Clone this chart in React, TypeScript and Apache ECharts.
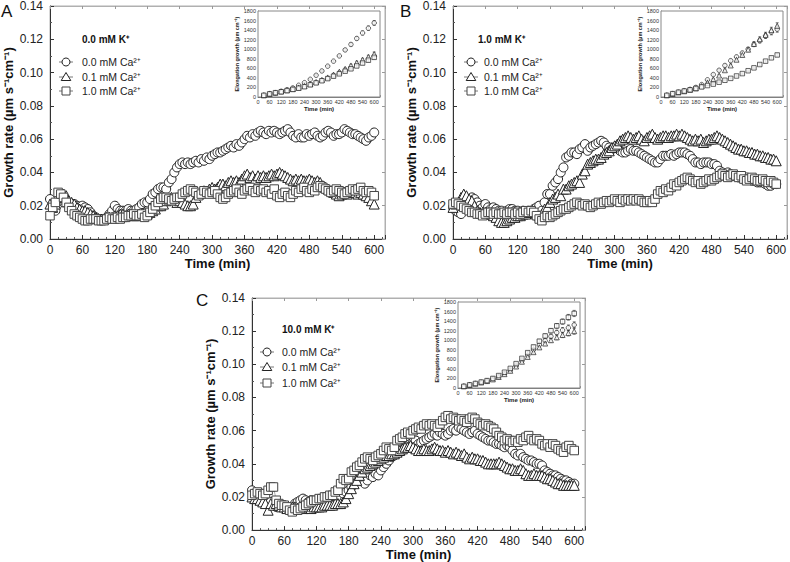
import React, { useEffect, useRef } from "react";
import * as echarts from "echarts";

// ---------- DATA ----------
const TIME = [
  0,5,10,15,20,25,30,35,40,45,50,55,60,65,70,75,80,85,90,95,
  100,105,110,115,120,125,130,135,140,145,150,155,160,165,170,175,180,185,190,195,
  200,205,210,215,220,225,230,235,240,245,250,255,260,265,270,275,280,285,290,295,
  300,305,310,315,320,325,330,335,340,345,350,355,360,365,370,375,380,385,390,395,
  400,405,410,415,420,425,430,435,440,445,450,455,460,465,470,475,480,485,490,495,
  500,505,510,515,520,525,530,535,540,545,550,555,560,565,570,575,580,585,590,595,
  600,
];

// Panel A: 0.0 mM K+
const A_CA00 = [
  0.024,0.020,0.017,0.021,0.023,0.022,0.022,0.021,0.021,0.021,
  0.020,0.019,0.020,0.019,0.018,0.016,0.014,0.013,0.012,0.012,
  0.012,0.013,0.015,0.017,0.020,0.018,0.017,0.017,0.017,0.018,
  0.017,0.017,0.018,0.019,0.021,0.022,0.022,0.024,0.027,0.028,
  0.030,0.031,0.031,0.030,0.034,0.036,0.040,0.043,0.045,0.046,
  0.045,0.046,0.045,0.046,0.047,0.046,0.048,0.047,0.049,0.048,
  0.050,0.051,0.052,0.052,0.053,0.054,0.055,0.056,0.055,0.057,
  0.056,0.058,0.060,0.062,0.061,0.063,0.062,0.064,0.065,0.064,
  0.063,0.065,0.064,0.065,0.064,0.063,0.064,0.065,0.066,0.064,
  0.062,0.061,0.063,0.061,0.061,0.063,0.062,0.063,0.064,0.062,
  0.061,0.062,0.064,0.065,0.064,0.062,0.063,0.063,0.064,0.066,
  0.065,0.064,0.063,0.063,0.062,0.061,0.060,0.059,0.061,0.062,
  0.064,
];
const A_CA01 = [
  0.021,0.019,0.021,0.024,0.025,0.027,0.026,0.023,0.022,0.021,
  0.019,0.018,0.017,0.017,0.016,0.015,0.014,0.013,0.012,0.012,
  0.012,0.013,0.013,0.013,0.014,0.014,0.015,0.015,0.014,0.015,
  0.015,0.014,0.014,0.015,0.015,0.016,0.015,0.016,0.017,0.018,
  0.020,0.020,0.021,0.023,0.024,0.025,0.024,0.022,0.023,0.022,
  0.021,0.020,0.020,0.021,0.025,0.027,0.028,0.029,0.028,0.030,
  0.031,0.030,0.031,0.033,0.033,0.032,0.034,0.035,0.034,0.035,
  0.034,0.036,0.038,0.039,0.037,0.038,0.036,0.038,0.037,0.038,
  0.037,0.038,0.039,0.038,0.039,0.040,0.039,0.038,0.037,0.036,
  0.035,0.036,0.035,0.036,0.035,0.035,0.036,0.035,0.034,0.035,
  0.034,0.032,0.031,0.030,0.029,0.028,0.027,0.026,0.027,0.028,
  0.027,0.028,0.029,0.028,0.027,0.028,0.027,0.026,0.025,0.023,
  0.021,
];
const A_CA10 = [
  0.014,0.019,0.022,0.028,0.027,0.025,0.022,0.019,0.017,0.015,
  0.014,0.013,0.012,0.011,0.011,0.012,0.012,0.012,0.011,0.011,
  0.011,0.012,0.013,0.012,0.012,0.013,0.012,0.013,0.013,0.014,
  0.014,0.015,0.014,0.014,0.015,0.013,0.014,0.016,0.018,0.020,
  0.022,0.024,0.025,0.025,0.024,0.023,0.024,0.025,0.025,0.027,
  0.028,0.029,0.030,0.029,0.028,0.026,0.027,0.029,0.028,0.027,
  0.028,0.029,0.027,0.025,0.024,0.025,0.027,0.028,0.029,0.030,
  0.028,0.027,0.029,0.030,0.031,0.029,0.028,0.030,0.029,0.030,
  0.028,0.029,0.027,0.030,0.026,0.025,0.027,0.028,0.026,0.025,
  0.027,0.029,0.028,0.030,0.031,0.029,0.028,0.030,0.029,0.031,
  0.032,0.031,0.030,0.029,0.028,0.029,0.030,0.029,0.028,0.027,
  0.028,0.029,0.030,0.029,0.030,0.031,0.029,0.028,0.029,0.028,
  0.026,
];

// Panel B: 1.0 mM K+
const B_CA00 = [
  0.019,0.017,0.016,0.015,0.020,0.022,0.024,0.025,0.024,0.022,
  0.020,0.019,0.021,0.019,0.018,0.019,0.018,0.017,0.017,0.016,
  0.017,0.018,0.018,0.017,0.017,0.016,0.017,0.016,0.017,0.016,
  0.018,0.019,0.020,0.017,0.022,0.027,0.027,0.032,0.034,0.036,
  0.040,0.043,0.049,0.050,0.052,0.052,0.051,0.054,0.055,0.057,
  0.053,0.055,0.056,0.057,0.058,0.059,0.058,0.056,0.055,0.054,
  0.055,0.056,0.053,0.052,0.052,0.053,0.054,0.053,0.053,0.052,
  0.051,0.050,0.049,0.048,0.047,0.046,0.046,0.048,0.050,0.050,
  0.050,0.051,0.050,0.051,0.052,0.052,0.052,0.051,0.050,0.048,
  0.046,0.046,0.045,0.046,0.046,0.046,0.045,0.045,0.044,0.041,
  0.040,0.039,0.040,0.039,0.038,0.038,0.037,0.037,0.036,0.037,
  0.036,0.035,0.035,0.034,0.034,0.034,0.033,0.032,0.032,0.033,
  0.033,
];
const B_CA01 = [
  0.019,0.021,0.022,0.025,0.027,0.026,0.024,0.023,0.020,0.017,
  0.016,0.016,0.016,0.015,0.015,0.014,0.013,0.011,0.010,0.010,
  0.011,0.012,0.013,0.013,0.014,0.014,0.015,0.015,0.016,0.016,
  0.016,0.015,0.014,0.015,0.018,0.019,0.022,0.024,0.025,0.027,
  0.026,0.030,0.030,0.032,0.033,0.034,0.035,0.034,0.039,0.041,
  0.045,0.046,0.047,0.048,0.048,0.049,0.051,0.052,0.053,0.055,
  0.056,0.057,0.059,0.060,0.061,0.062,0.061,0.060,0.061,0.062,
  0.060,0.059,0.061,0.062,0.063,0.061,0.060,0.061,0.062,0.062,
  0.061,0.062,0.062,0.063,0.062,0.063,0.062,0.061,0.060,0.059,
  0.060,0.059,0.060,0.058,0.059,0.060,0.060,0.061,0.062,0.061,
  0.060,0.059,0.058,0.057,0.056,0.055,0.054,0.054,0.053,0.053,
  0.052,0.052,0.051,0.051,0.050,0.050,0.049,0.049,0.048,0.048,
  0.047,
];
const B_CA10 = [
  0.021,0.022,0.021,0.020,0.019,0.018,0.017,0.016,0.016,0.015,
  0.015,0.014,0.015,0.016,0.016,0.015,0.016,0.015,0.015,0.016,
  0.015,0.016,0.016,0.015,0.016,0.015,0.016,0.017,0.016,0.017,
  0.016,0.014,0.012,0.011,0.013,0.014,0.013,0.014,0.015,0.016,
  0.017,0.018,0.018,0.019,0.020,0.021,0.022,0.021,0.020,0.021,
  0.020,0.019,0.020,0.021,0.022,0.021,0.022,0.023,0.022,0.023,
  0.024,0.023,0.022,0.024,0.023,0.024,0.023,0.024,0.023,0.024,
  0.023,0.022,0.022,0.023,0.022,0.024,0.027,0.029,0.028,0.030,
  0.029,0.031,0.033,0.032,0.034,0.035,0.036,0.037,0.036,0.035,
  0.034,0.035,0.033,0.034,0.035,0.036,0.035,0.036,0.037,0.038,
  0.039,0.038,0.037,0.038,0.039,0.038,0.037,0.038,0.036,0.035,
  0.036,0.037,0.036,0.035,0.035,0.036,0.035,0.034,0.035,0.034,
  0.033,
];

// Panel C: 10.0 mM K+
const C_CA00 = [
  0.024,0.022,0.020,0.019,0.018,0.017,0.016,0.017,0.015,0.014,
  0.014,0.014,0.015,0.014,0.013,0.014,0.016,0.017,0.018,0.019,
  0.018,0.017,0.018,0.017,0.016,0.017,0.018,0.017,0.018,0.019,
  0.018,0.019,0.018,0.020,0.022,0.023,0.024,0.026,0.029,0.031,
  0.032,0.031,0.028,0.030,0.033,0.032,0.034,0.033,0.036,0.038,
  0.040,0.042,0.044,0.045,0.046,0.047,0.048,0.050,0.051,0.052,
  0.053,0.054,0.052,0.053,0.054,0.055,0.056,0.057,0.058,0.057,
  0.059,0.058,0.057,0.058,0.060,0.061,0.060,0.062,0.061,0.060,
  0.059,0.058,0.059,0.060,0.058,0.057,0.056,0.055,0.054,0.054,
  0.053,0.052,0.052,0.051,0.050,0.051,0.050,0.048,0.046,0.045,
  0.046,0.044,0.043,0.042,0.042,0.041,0.040,0.040,0.039,0.036,
  0.035,0.034,0.033,0.033,0.032,0.031,0.030,0.030,0.029,0.028,
  0.028,
];
const C_CA01 = [
  0.020,0.019,0.019,0.018,0.017,0.016,0.012,0.016,0.015,0.016,
  0.015,0.014,0.014,0.013,0.013,0.014,0.014,0.013,0.014,0.013,
  0.014,0.014,0.013,0.014,0.014,0.014,0.014,0.015,0.015,0.015,
  0.015,0.016,0.016,0.016,0.017,0.019,0.022,0.025,0.028,0.030,
  0.033,0.035,0.037,0.038,0.039,0.040,0.041,0.042,0.043,0.044,
  0.045,0.045,0.046,0.046,0.047,0.048,0.049,0.050,0.050,0.051,
  0.050,0.049,0.048,0.048,0.049,0.048,0.048,0.049,0.050,0.049,
  0.048,0.048,0.047,0.048,0.047,0.046,0.047,0.046,0.045,0.046,
  0.044,0.043,0.044,0.043,0.043,0.042,0.042,0.041,0.040,0.040,
  0.040,0.040,0.041,0.040,0.039,0.038,0.037,0.037,0.036,0.036,
  0.037,0.036,0.034,0.033,0.033,0.034,0.033,0.033,0.033,0.032,
  0.031,0.031,0.030,0.029,0.028,0.028,0.027,0.027,0.027,0.027,
  0.027,
];
const C_CA10 = [
  0.021,0.022,0.023,0.022,0.021,0.022,0.024,0.026,0.026,0.018,
  0.016,0.015,0.015,0.014,0.012,0.011,0.013,0.012,0.013,0.014,
  0.015,0.016,0.017,0.018,0.018,0.019,0.019,0.020,0.020,0.021,
  0.021,0.023,0.024,0.028,0.031,0.030,0.031,0.035,0.036,0.038,
  0.039,0.041,0.043,0.044,0.043,0.042,0.044,0.045,0.046,0.048,
  0.050,0.049,0.048,0.050,0.054,0.055,0.056,0.058,0.059,0.058,
  0.060,0.061,0.062,0.061,0.063,0.064,0.063,0.064,0.063,0.062,
  0.064,0.066,0.068,0.069,0.067,0.068,0.067,0.066,0.067,0.066,
  0.065,0.067,0.068,0.067,0.065,0.064,0.063,0.064,0.063,0.062,
  0.061,0.059,0.057,0.056,0.054,0.055,0.054,0.053,0.054,0.053,
  0.055,0.054,0.056,0.057,0.055,0.054,0.055,0.054,0.052,0.051,
  0.052,0.050,0.052,0.051,0.049,0.048,0.047,0.050,0.051,0.049,
  0.048,
];

// Insets: cumulative elongation growth (µm cm-1)
const INSET_TIME = [30,60,90,120,150,180,210,240,270,300,330,360,390,420,450,480,510,540,570,600];
const IA_CA00 = [35,70,90,120,150,190,245,300,370,455,545,645,750,860,985,1100,1225,1340,1440,1550];
const IA_CA01 = [35,65,90,115,140,165,195,230,270,315,360,410,470,530,590,660,720,780,840,900];
const IA_CA10 = [35,65,90,110,135,160,185,215,255,295,340,385,435,485,540,590,650,710,770,830];
const IB_CA00 = [35,70,100,130,160,200,260,360,470,560,660,760,840,920,1000,1100,1180,1280,1360,1420];
const IB_CA01 = [35,65,95,120,150,180,230,300,370,450,560,660,780,880,990,1110,1210,1300,1400,1490];
const IB_CA10 = [35,70,100,125,150,180,210,240,270,310,350,390,440,490,550,610,680,750,820,880];
const IC_CA00 = [35,65,95,120,150,190,240,300,370,460,570,680,800,900,990,1080,1160,1210,1260,1320];
const IC_CA01 = [35,65,90,115,145,180,230,290,360,450,550,650,750,850,930,1000,1060,1110,1150,1190];
const IC_CA10 = [35,65,95,125,155,200,260,330,410,510,620,740,860,980,1090,1200,1300,1390,1480,1560];

// Inset error (±)
const EA_CA00 = [5,5,5,6,6,8,10,10,12,14,15,18,20,22,25,30,35,40,45,50];
const EA_CA01 = [4,4,5,5,6,6,8,8,10,10,12,14,16,18,20,24,28,30,34,40];
const EA_CA10 = [4,4,5,5,6,6,8,8,10,10,12,14,16,18,20,22,25,28,30,35];
const EB_CA00 = [5,5,6,6,8,10,12,15,18,20,25,28,30,35,40,45,50,55,60,65];
const EB_CA01 = [5,5,6,6,8,10,12,15,18,20,25,28,30,35,40,45,50,55,60,65];
const EB_CA10 = [4,4,5,5,6,6,8,8,10,10,12,12,14,15,16,18,20,22,25,28];
const EC_CA00 = [4,4,5,5,6,8,10,12,15,18,20,25,30,35,40,45,50,55,60,65];
const EC_CA01 = [4,4,5,5,6,8,10,12,15,18,20,25,30,35,40,45,50,55,60,65];
const EC_CA10 = [4,4,5,5,6,8,10,12,15,18,20,25,30,35,40,45,50,55,60,65];

const X_TICKS = [0, 60, 120, 180, 240, 300, 360, 420, 480, 540, 600];
const K_LABELS = ["0.0 mM K⁺", "1.0 mM K⁺", "10.0 mM K⁺"];
const CA_LABELS = ["0.0 mM Ca²⁺", "0.1 mM Ca²⁺", "1.0 mM Ca²⁺"];
const PANEL_LETTERS = ["A", "B", "C"];

const MAIN = [
  [A_CA00, A_CA01, A_CA10],
  [B_CA00, B_CA01, B_CA10],
  [C_CA00, C_CA01, C_CA10],
];
const INSET = [
  [IA_CA00, IA_CA01, IA_CA10],
  [IB_CA00, IB_CA01, IB_CA10],
  [IC_CA00, IC_CA01, IC_CA10],
];
const ERR = [
  [EA_CA00, EA_CA01, EA_CA10],
  [EB_CA00, EB_CA01, EB_CA10],
  [EC_CA00, EC_CA01, EC_CA10],
];

// ---------- LAYOUT ----------
const LAYOUT = [
  {
    grid: { left: 50, top: 6, width: 335, height: 233 },
    inset: { left: 258, top: 11, width: 122, height: 86 },
    letter: { x: 1, y: 3 },
    legend: { titleX: 82, titleY: 39, markX: 66, textX: 82, rows: [62, 77, 91] },
  },
  {
    grid: { left: 453, top: 6, width: 336, height: 233 },
    inset: { left: 661, top: 11, width: 122, height: 86 },
    letter: { x: 400, y: 3 },
    legend: { titleX: 478, titleY: 39, markX: 471, textX: 484, rows: [62, 77, 91] },
  },
  {
    grid: { left: 252, top: 298, width: 333, height: 234 },
    inset: { left: 458, top: 302, width: 122, height: 86 },
    letter: { x: 196, y: 292 },
    legend: { titleX: 282, titleY: 329, markX: 267, textX: 282, rows: [352, 367, 383] },
  },
];

const SYMBOLS = ["circle", "triangle", "rect"];
const SYMBOL_SIZES = [9, 10, 8.5];
const BORDER = ["#222", "#222", "#444"];
const FONT = "Liberation Sans, Arial, Helvetica, sans-serif";

function buildOption() {
  const grids: any[] = [];
  const xAxes: any[] = [];
  const yAxes: any[] = [];
  const series: any[] = [];
  const graphics: any[] = [];

  LAYOUT.forEach((L, p) => {
    const gMain = grids.length;
    grids.push({ ...L.grid, show: true, borderColor: "#b0b0b0", borderWidth: 1, backgroundColor: "#fff", containLabel: false });
    const gIn = grids.length;
    grids.push({ ...L.inset, show: true, borderColor: "#888", borderWidth: 1, backgroundColor: "#fff", containLabel: false, z: 5 });

    const xMain = xAxes.length;
    xAxes.push({
      type: "value", gridIndex: gMain, min: 0, max: 620, interval: 60, position: "bottom",
      name: "Time (min)", nameLocation: "middle", nameGap: 16,
      nameTextStyle: { fontFamily: FONT, fontWeight: "bold", fontSize: 13, color: "#111" },
      axisLine: { show: true, onZero: false, lineStyle: { color: "#333", width: 1 } },
      axisTick: { show: true, inside: true, length: 4, lineStyle: { color: "#333" } },
      minorTick: { show: true, splitNumber: 4, length: 2, lineStyle: { color: "#555" } },
      splitLine: { show: false },
      axisLabel: { fontFamily: FONT, fontSize: 12, color: "#222", margin: 5, formatter: (v: number) => (X_TICKS.includes(v) ? String(v) : "") },
    });
    xAxes.push({
      type: "value", gridIndex: gMain, min: 0, max: 620, interval: 60, position: "top",
      axisLine: { show: true, onZero: false, lineStyle: { color: "#b0b0b0" } },
      axisTick: { show: true, inside: true, length: 3, lineStyle: { color: "#999" } },
      axisLabel: { show: false }, splitLine: { show: false },
    });
    const xIn = xAxes.length;
    xAxes.push({
      type: "value", gridIndex: gIn, min: 0, max: 630, interval: 60, position: "bottom",
      name: "Time (min)", nameLocation: "middle", nameGap: 8,
      nameTextStyle: { fontFamily: FONT, fontWeight: "bold", fontSize: 6, color: "#222" },
      axisLine: { show: true, onZero: false, lineStyle: { color: "#555", width: 0.8 } },
      axisTick: { show: true, inside: true, length: 2, lineStyle: { color: "#555", width: 0.6 } },
      splitLine: { show: false },
      axisLabel: { fontFamily: FONT, fontSize: 5.5, color: "#333", margin: 2, formatter: (v: number) => (X_TICKS.includes(v) ? String(v) : "") },
    });

    const yMain = yAxes.length;
    yAxes.push({
      type: "value", gridIndex: gMain, min: 0, max: 0.14, interval: 0.02, position: "left",
      name: "Growth rate (µm s⁻¹cm⁻¹)", nameLocation: "middle", nameGap: 35, nameRotate: 90,
      nameTextStyle: { fontFamily: FONT, fontWeight: "bold", fontSize: 13, color: "#111" },
      axisLine: { show: true, onZero: false, lineStyle: { color: "#333", width: 1 } },
      axisTick: { show: true, inside: true, length: 4, lineStyle: { color: "#333" } },
      minorTick: { show: true, splitNumber: 2, length: 2, lineStyle: { color: "#555" } },
      splitLine: { show: false },
      axisLabel: { fontFamily: FONT, fontSize: 12, color: "#222", margin: 7, formatter: (v: number) => v.toFixed(2) },
    });
    yAxes.push({
      type: "value", gridIndex: gMain, min: 0, max: 0.14, interval: 0.02, position: "right",
      axisLine: { show: true, onZero: false, lineStyle: { color: "#b0b0b0" } },
      axisTick: { show: true, inside: true, length: 3, lineStyle: { color: "#999" } },
      axisLabel: { show: false }, splitLine: { show: false },
    });
    const yIn = yAxes.length;
    yAxes.push({
      type: "value", gridIndex: gIn, min: 0, max: 1800, interval: 200, position: "left",
      name: "Elongation growth (µm cm⁻¹)", nameLocation: "middle", nameGap: 15, nameRotate: 90,
      nameTextStyle: { fontFamily: FONT, fontWeight: "bold", fontSize: 5.5, color: "#222" },
      axisLine: { show: true, onZero: false, lineStyle: { color: "#555", width: 0.8 } },
      axisTick: { show: true, inside: true, length: 2, lineStyle: { color: "#555", width: 0.6 } },
      splitLine: { show: false },
      axisLabel: { fontFamily: FONT, fontSize: 5.5, color: "#333", margin: 2, formatter: (v: number) => String(v) },
    });

    // main series
    MAIN[p].forEach((vals, s) => {
      series.push({
        type: "line", xAxisIndex: xMain, yAxisIndex: yMain, z: 2 + s,
        data: TIME.map((t, i) => [t, vals[i]]),
        symbol: SYMBOLS[s], symbolSize: SYMBOL_SIZES[s], showAllSymbol: true,
        lineStyle: { color: "#777", width: 0.6 },
        itemStyle: { color: "#fff", borderColor: BORDER[s], borderWidth: 1 },
        silent: true,
      });
    });

    // inset error bars + markers
    INSET[p].forEach((vals, s) => {
      const err = ERR[p][s];
      series.push({
        type: "custom", xAxisIndex: xIn, yAxisIndex: yIn, z: 6,
        data: INSET_TIME.map((t, i) => [t, vals[i] - err[i], vals[i] + err[i]]),
        renderItem: (params: any, api: any) => {
          const lo = api.coord([api.value(0), api.value(1)]);
          const hi = api.coord([api.value(0), api.value(2)]);
          const st = { stroke: "#333", lineWidth: 0.6 };
          return {
            type: "group",
            children: [
              { type: "line", shape: { x1: lo[0], y1: lo[1], x2: hi[0], y2: hi[1] }, style: st },
              { type: "line", shape: { x1: lo[0] - 1.5, y1: lo[1], x2: lo[0] + 1.5, y2: lo[1] }, style: st },
              { type: "line", shape: { x1: hi[0] - 1.5, y1: hi[1], x2: hi[0] + 1.5, y2: hi[1] }, style: st },
            ],
          };
        },
        silent: true,
      });
      series.push({
        type: "scatter", xAxisIndex: xIn, yAxisIndex: yIn, z: 7,
        data: INSET_TIME.map((t, i) => [t, vals[i]]),
        symbol: SYMBOLS[s], symbolSize: s === 1 ? 5 : 4.5,
        itemStyle: { color: "#fff", borderColor: "#111", borderWidth: 0.8 },
        silent: true,
      });
    });

    // panel letter
    graphics.push({
      type: "text", left: L.letter.x, top: L.letter.y,
      style: { text: PANEL_LETTERS[p], font: `17px ${FONT}`, fill: "#111" },
    });

    // legend
    const lg = L.legend;
    graphics.push({
      type: "text", x: lg.titleX, y: lg.titleY,
      style: { text: K_LABELS[p], font: `bold 10px ${FONT}`, fill: "#111", verticalAlign: "middle" },
    });
    lg.rows.forEach((ry, s) => {
      const cx = lg.markX;
      graphics.push({ type: "line", shape: { x1: cx - 7, y1: ry, x2: cx + 7, y2: ry }, style: { stroke: "#555", lineWidth: 0.8 } });
      const ms = { fill: "#fff", stroke: BORDER[s], lineWidth: 1 };
      if (s === 0) graphics.push({ type: "circle", shape: { cx, cy: ry, r: 4 }, style: ms });
      else if (s === 1) graphics.push({ type: "polygon", shape: { points: [[cx, ry - 4.5], [cx + 4.8, ry + 3.5], [cx - 4.8, ry + 3.5]] }, style: ms });
      else graphics.push({ type: "rect", shape: { x: cx - 4, y: ry - 4, width: 8, height: 8 }, style: ms });
      graphics.push({
        type: "text", x: lg.textX, y: ry,
        style: { text: CA_LABELS[s], font: `10.5px ${FONT}`, fill: "#222", verticalAlign: "middle" },
      });
    });
  });

  return {
    animation: false,
    backgroundColor: "#fff",
    grid: grids,
    xAxis: xAxes,
    yAxis: yAxes,
    series,
    graphic: graphics,
  };
}

export default function App() {
  const ref = useRef<HTMLDivElement>(null);
  useEffect(() => {
    if (!ref.current) return;
    const chart = echarts.init(ref.current, null, { renderer: "svg" });
    chart.setOption(buildOption());
    return () => chart.dispose();
  }, []);
  return (
    <div
      ref={ref}
      style={{ position: "absolute", left: 0, top: 0, width: 790, height: 562, background: "#fff" }}
    />
  );
}
